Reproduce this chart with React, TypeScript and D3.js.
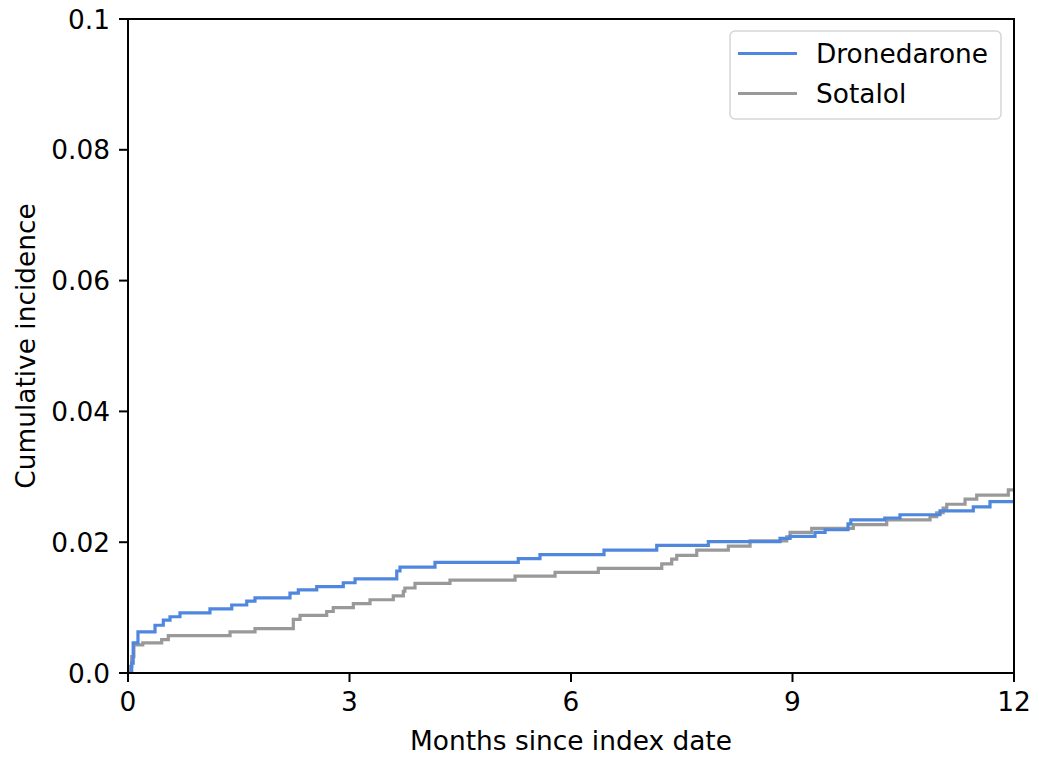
import React from "react";
import * as d3 from "d3";

const dronedaroneTimes = [0, 0.05, 0.07, 0.135, 0.366, 0.478, 0.569, 0.704, 1.11, 1.405, 1.608, 1.72, 2.194, 2.307, 2.556, 2.916, 3.075, 3.64, 3.684, 4.158, 5.286, 5.58, 6.447, 7.161, 7.86, 8.831, 8.967, 9.305, 9.441, 9.752, 9.79, 10.25, 10.456, 10.998, 11.449, 11.675, 12];
const dronedaroneValues = [0, 0.0015, 0.0046, 0.0063, 0.0073, 0.0081, 0.0086, 0.0092, 0.0098, 0.0104, 0.011, 0.0115, 0.0122, 0.0127, 0.0132, 0.0138, 0.0144, 0.0156, 0.0162, 0.0169, 0.0175, 0.0181, 0.0188, 0.0195, 0.0201, 0.0206, 0.0209, 0.0215, 0.0219, 0.0228, 0.0234, 0.0237, 0.0242, 0.0248, 0.0254, 0.0262, 0.0262];

const sotalolTimes = [0, 0.02, 0.05, 0.08, 0.2, 0.456, 0.546, 1.382, 1.72, 2.239, 2.33, 2.691, 2.78, 3.052, 3.278, 3.593, 3.729, 3.75, 3.887, 4.361, 5.242, 5.784, 6.37, 7.229, 7.364, 7.432, 7.703, 8.131, 8.425, 8.922, 8.967, 9.26, 9.824, 10.276, 10.863, 10.953, 11.04, 11.089, 11.337, 11.495, 11.923, 12];
const sotalolValues = [0, 0.001, 0.0025, 0.0043, 0.0046, 0.0051, 0.0057, 0.0063, 0.0068, 0.0082, 0.0088, 0.0094, 0.01, 0.0106, 0.0112, 0.0118, 0.0125, 0.013, 0.0137, 0.0142, 0.0148, 0.0154, 0.016, 0.0167, 0.0174, 0.018, 0.0188, 0.0194, 0.0202, 0.0208, 0.0215, 0.0221, 0.0227, 0.0234, 0.0239, 0.0245, 0.0252, 0.0258, 0.0266, 0.0272, 0.028, 0.028];

const seriesNames = ["Dronedarone", "Sotalol"];
const seriesColors = ["#5087de", "#999999"];

const xTicks = [0, 3, 6, 9, 12];
const xTickLabels = ["0", "3", "6", "9", "12"];
const yTicks = [0, 0.02, 0.04, 0.06, 0.08, 0.1];
const yTickLabels = ["0.0", "0.02", "0.04", "0.06", "0.08", "0.1"];

const xTitle = "Months since index date";
const yTitle = "Cumulative incidence";

const W = 1039;
const H = 758;
const M = { left: 128, right: 1014, top: 19, bottom: 673 };
const FONT = "DejaVu Sans, sans-serif";
const FS = 26.4;

export default function App() {
  const x = d3.scaleLinear().domain([0, 12]).range([M.left, M.right]);
  const y = d3.scaleLinear().domain([0, 0.1]).range([M.bottom, M.top]);
  const line = d3
    .line<[number, number]>()
    .x((d) => x(d[0]))
    .y((d) => y(d[1]))
    .curve(d3.curveStepAfter);

  const series = [
    dronedaroneTimes.map((t, i) => [t, dronedaroneValues[i]] as [number, number]),
    sotalolTimes.map((t, i) => [t, sotalolValues[i]] as [number, number]),
  ];

  return (
    <svg
      width={W}
      height={H}
      style={{ position: "absolute", left: 0, top: 0, background: "#fff" }}
      fontFamily={FONT}
    >
      <rect x={0} y={0} width={W} height={H} fill="#fff" />
      <defs>
        <clipPath id="plotclip">
          <rect x={M.left} y={M.top} width={M.right - M.left} height={M.bottom - M.top} />
        </clipPath>
      </defs>
      <g clipPath="url(#plotclip)">
        {[1, 0].map((i) => (
          <path
            key={i}
            d={line(series[i]) || ""}
            fill="none"
            stroke={seriesColors[i]}
            strokeWidth={3.2}
          />
        ))}
      </g>
      <rect
        x={M.left}
        y={M.top}
        width={M.right - M.left}
        height={M.bottom - M.top}
        fill="none"
        stroke="#000"
        strokeWidth={2}
      />
      {xTicks.map((t, i) => (
        <g key={"x" + i}>
          <line x1={x(t)} x2={x(t)} y1={M.bottom} y2={M.bottom + 9} stroke="#000" strokeWidth={2} />
          <text x={x(t)} y={M.bottom + 38} textAnchor="middle" fontSize={FS} fill="#000">
            {xTickLabels[i]}
          </text>
        </g>
      ))}
      {yTicks.map((t, i) => (
        <g key={"y" + i}>
          <line x1={M.left - 9} x2={M.left} y1={y(t)} y2={y(t)} stroke="#000" strokeWidth={2} />
          <text
            x={M.left - 18}
            y={y(t)}
            dy="0.36em"
            textAnchor="end"
            fontSize={FS}
            fill="#000"
          >
            {yTickLabels[i]}
          </text>
        </g>
      ))}
      <text x={(M.left + M.right) / 2} y={750} textAnchor="middle" fontSize={FS} fill="#000">
        {xTitle}
      </text>
      <text
        transform={`translate(35, ${(M.top + M.bottom) / 2}) rotate(-90)`}
        textAnchor="middle"
        fontSize={FS}
        fill="#000"
      >
        {yTitle}
      </text>
      <rect x={730} y={31} width={271} height={88} rx={5} fill="#fff" fillOpacity={0.8} stroke="#d6d6d6" strokeWidth={1.5} />
      {seriesNames.map((n, i) => (
        <g key={n}>
          <line x1={738} x2={797} y1={53.5 + i * 40} y2={53.5 + i * 40} stroke={seriesColors[i]} strokeWidth={3.2} />
          <text x={816} y={53.5 + i * 40} dy="0.36em" fontSize={FS} fill="#000">
            {n}
          </text>
        </g>
      ))}
    </svg>
  );
}
